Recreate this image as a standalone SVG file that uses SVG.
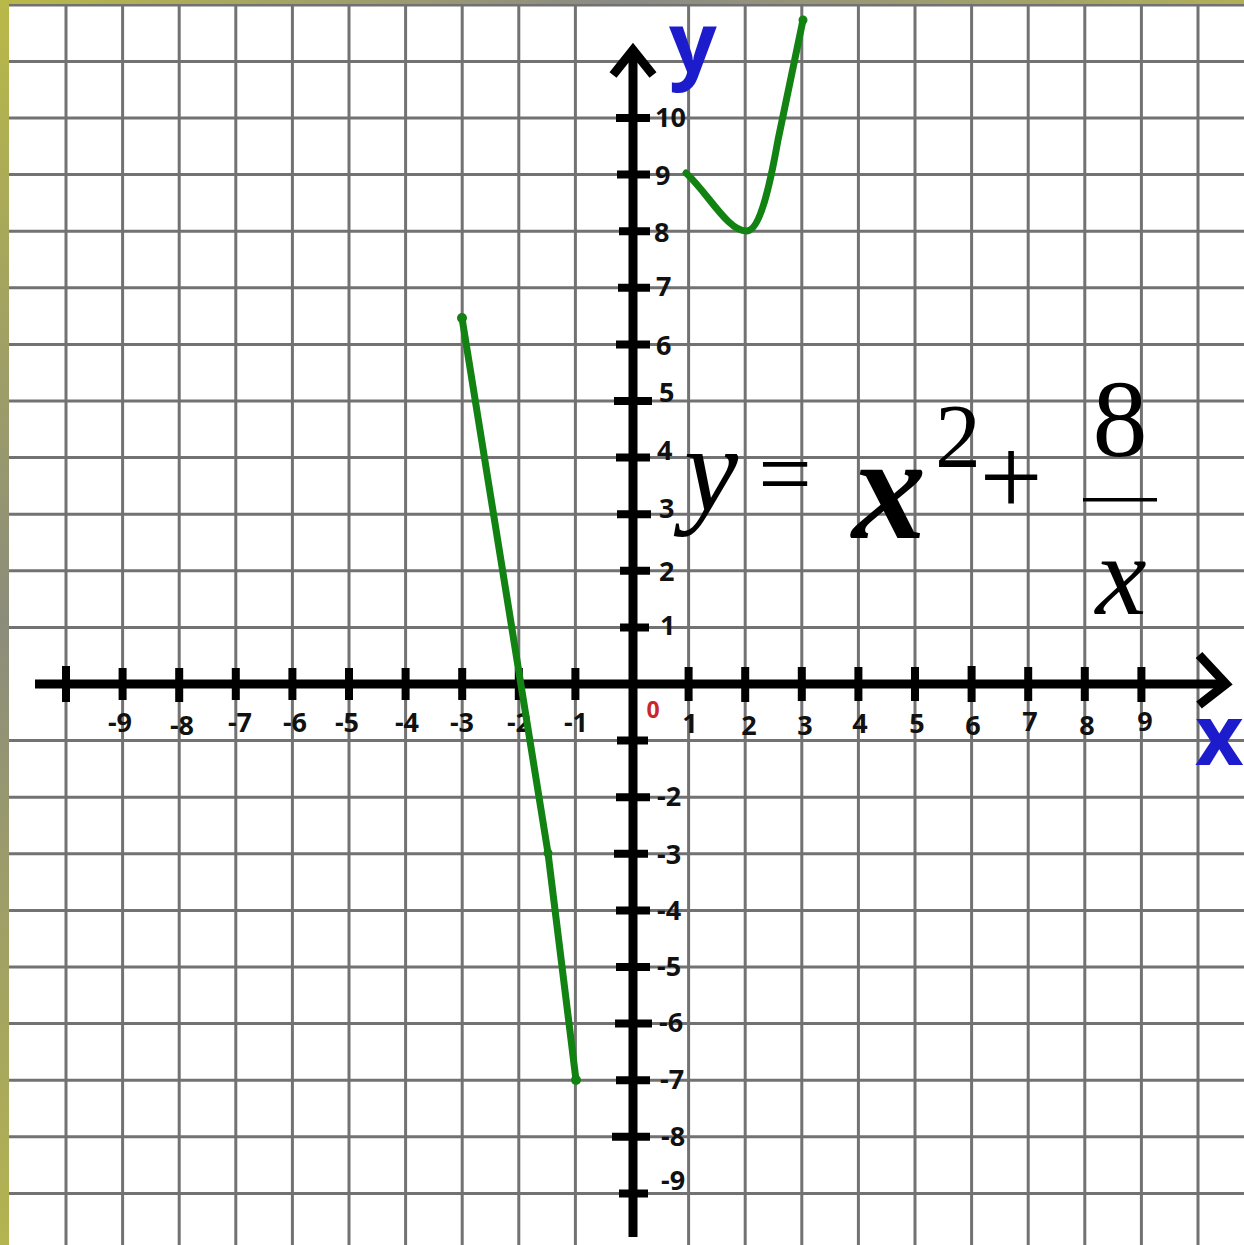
<svg xmlns="http://www.w3.org/2000/svg" width="1244" height="1245" viewBox="0 0 1244 1245">
<defs>
<linearGradient id="lb" x1="0" y1="0" x2="0" y2="1">
<stop offset="0" stop-color="#b9b948"/>
<stop offset="0.5" stop-color="#8c8c7c"/>
<stop offset="1" stop-color="#b4b450"/>
</linearGradient>
<linearGradient id="tb" x1="0" y1="0" x2="1" y2="0">
<stop offset="0" stop-color="#b9b948"/>
<stop offset="0.5" stop-color="#8a8a86"/>
<stop offset="1" stop-color="#b0b058"/>
</linearGradient>
<style>
.g{stroke:#727272;stroke-width:3;fill:none}
.ax{stroke:#000;stroke-width:9;fill:none;stroke-linecap:butt}
.tk{stroke:#000;stroke-width:8}
.lb{font-family:"Open Sans","DejaVu Sans",sans-serif;font-weight:700;font-size:27px;fill:#111}
.xl{text-anchor:middle}
.cv{stroke:#128212;stroke-width:7;fill:none;stroke-linecap:round;stroke-linejoin:round}
.f{font-family:"Liberation Serif","Times New Roman",serif;fill:#000;text-anchor:middle}
</style>
</defs>
<rect width="1244" height="1245" fill="#fff"/>
<g id="grid">
<path class="g" d="M66 0V1245M122.6 0V1245M179.2 0V1245M235.8 0V1245M292.4 0V1245M349 0V1245M405.6 0V1245M462.2 0V1245M518.8 0V1245M575.4 0V1245M688.6 0V1245M745.2 0V1245M801.8 0V1245M858.4 0V1245M915 0V1245M971.6 0V1245M1028.2 0V1245M1084.8 0V1245M1141.4 0V1245M1198 0V1245"/>
<path class="g" d="M0 5H1244M0 61.4H1244M0 118H1244M0 174.6H1244M0 231.2H1244M0 287.8H1244M0 344.4H1244M0 401H1244M0 457.6H1244M0 514.2H1244M0 570.8H1244M0 627.4H1244M0 740.6H1244M0 797.2H1244M0 853.8H1244M0 910.4H1244M0 967H1244M0 1023.6H1244M0 1080.2H1244M0 1136.8H1244M0 1193.4H1244"/>
</g>
<rect x="0" y="0" width="1244" height="4" fill="url(#tb)"/>
<rect x="0" y="0" width="9" height="1245" fill="url(#lb)"/>
<g id="axes">
<path class="ax" d="M35 684H1224"/>
<path class="ax" d="M1199 655L1226 684L1199 705" stroke-linejoin="miter"/>
<path class="ax" d="M633 1237V50"/>
<path class="ax" d="M613 75L633 50L653 75" stroke-linejoin="miter"/>
</g>
<g id="ticks">
<path class="tk" d="M66 666V702M122.6 668V700M179.2 668V702M235.8 668V700M292.4 668V700M349 668V700M405.6 668V700M462.2 668V700M518.8 668V700M575.4 668V700M688.6 667V701M745.2 667V702M801.8 667V701M858.4 667V701M915 667V701M971.6 666V702M1028.2 667V701M1084.8 667V701M1141.4 667V702"/>
<path class="tk" d="M616 118H650M617 174.6H650M619 231.2H650M618 287.8H650M616 344.4H650M614 401H652M616 457.6H650M617 514.2H651M620 570.8H650M620 627.4H649M617 740.6H648M616 797.2H650M614 853.8H648M616 910.4H650M616 967H650M615 1023.6H652M616 1080.2H650M612 1136.8H650M619 1193.4H648"/>
</g>
<g id="xlabels" class="lb xl">
<text x="120" y="732">-9</text>
<text x="182" y="735">-8</text>
<text x="240" y="732">-7</text>
<text x="295" y="732">-6</text>
<text x="347" y="732">-5</text>
<text x="407" y="732">-4</text>
<text x="462" y="732">-3</text>
<text x="519" y="732">-2</text>
<text x="576" y="732">-1</text>
<text x="690" y="733">1</text>
<text x="749" y="735">2</text>
<text x="805" y="735">3</text>
<text x="860" y="733">4</text>
<text x="917" y="733">5</text>
<text x="973" y="735">6</text>
<text x="1030" y="731">7</text>
<text x="1087" y="735">8</text>
<text x="1145" y="731">9</text>
</g>
<text x="653" y="718" style="font-family:'Open Sans','DejaVu Sans',sans-serif;font-weight:700;font-size:23px;fill:#c82828;text-anchor:middle">0</text>
<g id="ylabels" class="lb">
<text x="655" y="127">10</text>
<text x="655" y="185">9</text>
<text x="654" y="242">8</text>
<text x="656" y="296">7</text>
<text x="656" y="355">6</text>
<text x="659" y="402">5</text>
<text x="657" y="460">4</text>
<text x="659" y="518">3</text>
<text x="659" y="581">2</text>
<text x="660" y="635">1</text>
<text x="657" y="806">-2</text>
<text x="657" y="864">-3</text>
<text x="657" y="920">-4</text>
<text x="657" y="976">-5</text>
<text x="659" y="1032">-6</text>
<text x="660" y="1089">-7</text>
<text x="661" y="1146">-8</text>
<text x="661" y="1190">-9</text>
</g>
<g id="axisnames" style="font-family:'Open Sans','DejaVu Sans',sans-serif;font-weight:700;fill:#1c1ccc">
<text x="693" y="73" font-size="84" text-anchor="middle">y</text>
<text x="1195" y="765" font-size="84">x</text>
</g>
<g id="curves">
<path class="cv" d="M462 318L548 853L576 1080"/>
<path class="cv" d="M686 173C708 193 728 232 747 231C760 230 770 185 778 140L803 20"/>
<g fill="#128212">
<circle cx="462" cy="318" r="5"/>
<circle cx="548" cy="853" r="4.5"/>
<circle cx="576" cy="1080" r="5"/>
<circle cx="803" cy="20" r="4.5"/>
</g>
</g>
<g id="formula">
<text class="f" x="711" y="511" font-size="122" font-style="italic">y</text>
<text class="f" x="785" y="506" font-size="95">=</text>
<text class="f" x="889" y="538" font-size="148" font-style="italic" font-weight="700">x</text>
<text class="f" x="958" y="467" font-size="92">2</text>
<text class="f" x="1011" y="515" font-size="112">+</text>
<text class="f" x="1120" y="456" font-size="110">8</text>
<rect x="1083" y="498" width="74" height="3.5" fill="#000"/>
<text class="f" x="1121" y="614" font-size="115" font-style="italic">x</text>
</g>
</svg>
